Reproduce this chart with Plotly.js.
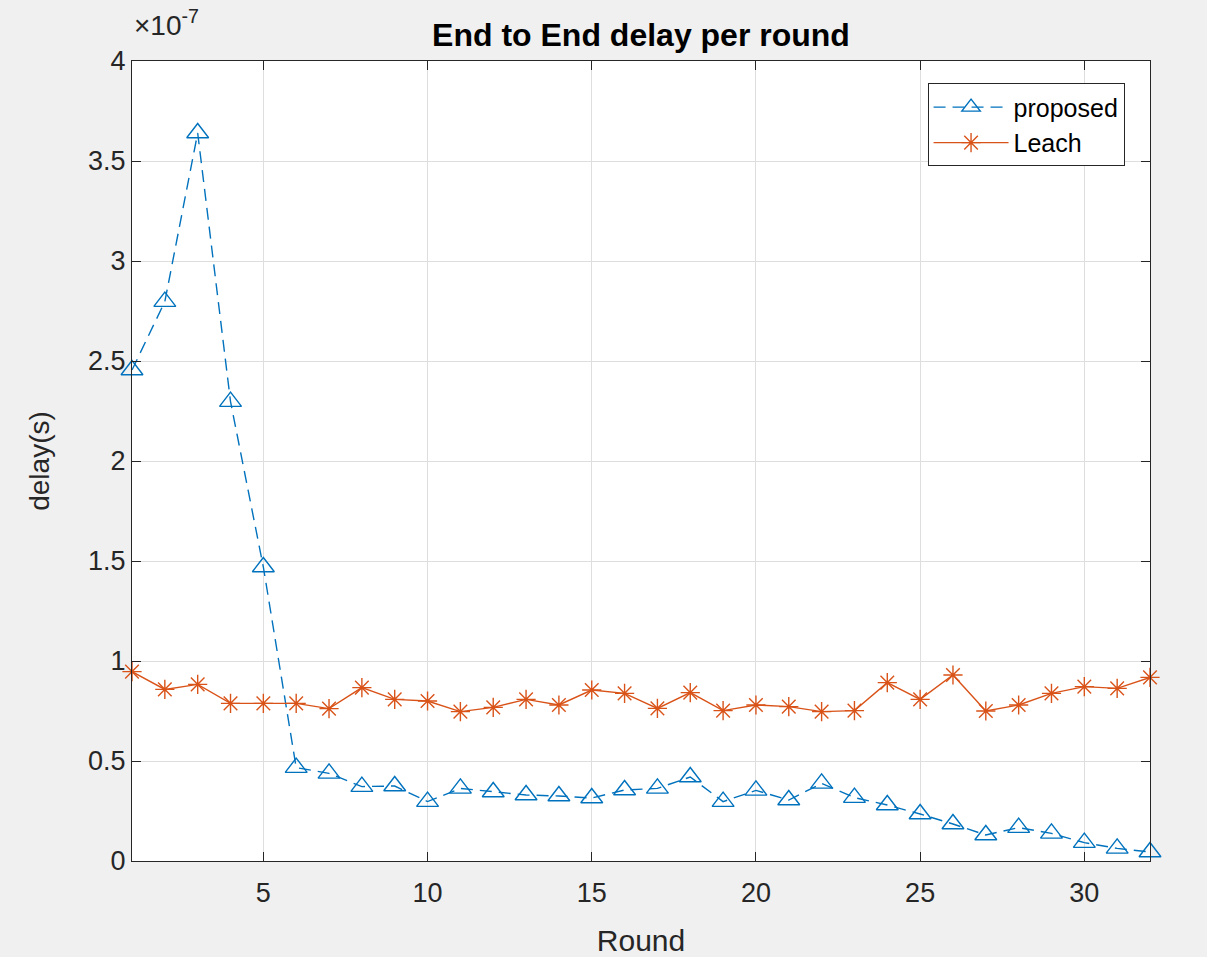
<!DOCTYPE html>
<html>
<head>
<meta charset="utf-8">
<script src="https://cdn.plot.ly/plotly-3.0.1.min.js"></script>
<style>
  html, body { margin: 0; padding: 0; background: #f0f0f0; }
  #chart { width: 1207px; height: 957px; }
</style>
</head>
<body>
<div id="chart"></div>
<script>
// Rounds
const rounds = [1,2,3,4,5,6,7,8,9,10,11,12,13,14,15,16,17,18,19,20,21,22,23,24,25,26,27,28,29,30,31,32];
// Delay values in units of 1e-7 s
const proposedDelay = [2.455,2.797,3.64,2.297,1.47,0.467,0.438,0.372,0.375,0.297,0.363,0.345,
  0.33,0.325,0.315,0.355,0.363,0.42,0.297,0.353,0.305,0.388,0.317,0.28,
  0.235,0.185,0.13,0.167,0.138,0.092,0.063,0.045];
const leachDelay = [0.947,0.858,0.883,0.788,0.788,0.788,0.762,0.867,0.808,0.80,0.747,0.768,
  0.808,0.78,0.855,0.838,0.763,0.842,0.752,0.78,0.772,0.747,0.752,0.892,
  0.808,0.93,0.75,0.78,0.838,0.872,0.863,0.918];
const xTicks = [5,10,15,20,25,30];
const yTicks = [0,0.5,1,1.5,2,2.5,3,3.5,4];
const yTickText = ['0','0.5','1','1.5','2','2.5','3','3.5','4'];

const font = 'Liberation Sans, Arial, Helvetica, sans-serif';
const axisColor = '#262626';

const traces = [
  {
    x: rounds, y: proposedDelay, name: 'proposed', type: 'scatter', mode: 'lines+markers',
    line: { color: '#0072BD', width: 1.4, dash: '12px,7px' },
    marker: { symbol: 'triangle-up-open', size: 19, color: '#0072BD', line: { width: 1.4, color: '#0072BD' } },
    cliponaxis: false
  },
  {
    x: rounds, y: leachDelay, name: 'Leach', type: 'scatter', mode: 'lines+markers',
    line: { color: '#D95319', width: 1.4 },
    marker: { symbol: 'asterisk-open', size: 16, color: '#D95319', line: { width: 1.4, color: '#D95319' } },
    cliponaxis: false
  }
];

const layout = {
  width: 1207, height: 957,
  paper_bgcolor: '#f0f0f0',
  plot_bgcolor: '#ffffff',
  margin: { l: 132, r: 57, t: 61, b: 96 },
  font: { family: font, color: axisColor, size: 26 },
  title: {
    text: '<b>End to End delay per round</b>',
    font: { family: font, size: 32, color: '#000000' },
    x: 0.5, xref: 'paper', xanchor: 'center',
    y: 1, yref: 'paper', yanchor: 'bottom', pad: { b: 15 }
  },
  showlegend: true,
  legend: {
    x: 0.975, y: 0.972, xanchor: 'right', yanchor: 'top',
    bgcolor: '#ffffff', bordercolor: '#262626', borderwidth: 1,
    font: { family: font, size: 25, color: '#000000' },
    itemwidth: 75, tracegroupgap: 0
  },
  xaxis: {
    range: [1, 32], tickvals: xTicks, ticktext: xTicks.map(String),
    showgrid: true, gridcolor: '#dedede', gridwidth: 1,
    zeroline: false, showline: true, linecolor: axisColor, linewidth: 1, mirror: 'ticks',
    ticks: 'inside', ticklen: 9, tickcolor: axisColor, tickwidth: 1,
    ticklabelstandoff: 8,
    tickfont: { family: font, size: 27, color: axisColor },
    title: { text: 'Round', font: { family: font, size: 30, color: axisColor }, standoff: 22 }
  },
  yaxis: {
    range: [0, 4], tickvals: yTicks, ticktext: yTickText,
    showgrid: true, gridcolor: '#dedede', gridwidth: 1,
    zeroline: false, showline: true, linecolor: axisColor, linewidth: 1, mirror: 'ticks',
    ticks: 'inside', ticklen: 9, tickcolor: axisColor, tickwidth: 1,
    tickfont: { family: font, size: 27, color: axisColor },
    title: { text: 'delay(s)', font: { family: font, size: 28, color: axisColor }, standoff: 30 }
  },
  annotations: [
    {
      text: '×10<sup>-7</sup>', xref: 'paper', yref: 'paper', x: 0, y: 1,
      xanchor: 'left', yanchor: 'bottom', showarrow: false, yshift: 18,
      font: { family: font, size: 28, color: axisColor }
    }
  ]
};

Plotly.newPlot('chart', traces, layout, { displayModeBar: false, staticPlot: true });
</script>
</body>
</html>
